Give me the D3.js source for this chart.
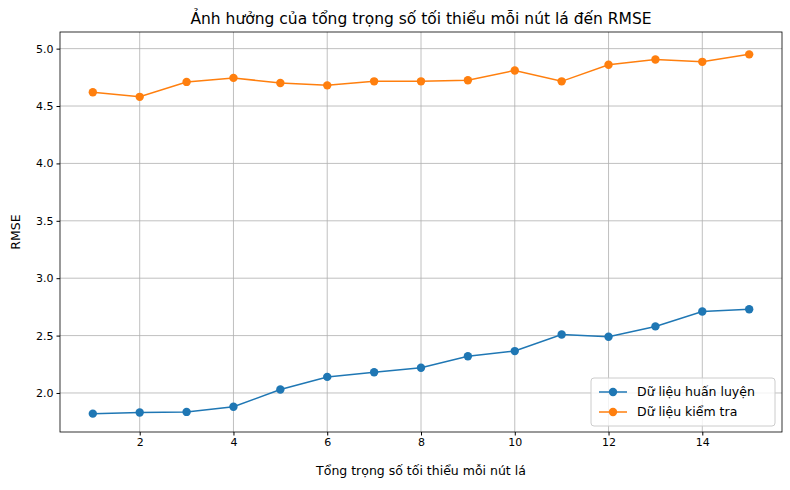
<!DOCTYPE html>
<html><head><meta charset="utf-8">
<script src="https://cdn.jsdelivr.net/npm/d3@7"></script>
<style>body{margin:0;background:#fff}text{font-family:"DejaVu Sans",sans-serif}</style>
</head><body><svg width="790" height="490"></svg>
<script>
const weights = [1,2,3,4,5,6,7,8,9,10,11,12,13,14,15];
const trainRmse = [1.82,1.83,1.835,1.88,2.03,2.14,2.18,2.22,2.32,2.365,2.51,2.49,2.58,2.71,2.73];
const testRmse = [4.62,4.58,4.71,4.745,4.70,4.68,4.715,4.715,4.725,4.81,4.715,4.86,4.905,4.885,4.95];
const yTicks = [2.0,2.5,3.0,3.5,4.0,4.5,5.0];
const xTicks = [2,4,6,8,10,12,14];

const svg = d3.select('svg');
const L = 60, R = 782, T = 32, B = 432;
const x = d3.scaleLinear().domain([0.3,15.7]).range([L,R]);
const y = d3.scaleLinear().domain([1.66,5.11]).range([B,T+4]);

const g = svg.append('g');
xTicks.forEach(t => g.append('line').attr('x1',x(t)).attr('x2',x(t)).attr('y1',T).attr('y2',B).attr('stroke','#b0b0b0').attr('stroke-width',0.8));
yTicks.forEach(t => g.append('line').attr('x1',L).attr('x2',R).attr('y1',y(t)).attr('y2',y(t)).attr('stroke','#b0b0b0').attr('stroke-width',0.8));

svg.append('g').attr('transform',`translate(0,${B})`)
  .call(d3.axisBottom(x).tickValues(xTicks).tickFormat(d3.format('d')).tickSize(3.5).tickPadding(3))
  .call(a => a.select('.domain').remove());
svg.append('g').attr('transform',`translate(${L},0)`)
  .call(d3.axisLeft(y).tickValues(yTicks).tickFormat(d3.format('.1f')).tickSize(3.5).tickPadding(3))
  .call(a => a.select('.domain').remove());
svg.selectAll('.tick text').attr('font-size',11).attr('fill','#000');
svg.append('rect').attr('x',L).attr('y',T).attr('width',R-L).attr('height',B-T).attr('fill','none').attr('stroke','#000').attr('stroke-width',0.8);

const line = d3.line().x((d,i)=>x(weights[i])).y(d=>y(d));
[[trainRmse,'#1f77b4'],[testRmse,'#ff7f0e']].forEach(([s,c]) => {
  svg.append('path').attr('d',line(s)).attr('fill','none').attr('stroke',c).attr('stroke-width',1.5);
  svg.selectAll(null).data(s).enter().append('circle')
    .attr('cx',(d,i)=>x(weights[i])).attr('cy',d=>y(d)).attr('r',4.2).attr('fill',c);
});

svg.append('text').attr('x',(L+R)/2).attr('y',T-8).attr('text-anchor','middle').attr('font-size',15.5)
  .text('Ảnh hưởng của tổng trọng số tối thiểu mỗi nút lá đến RMSE');
svg.append('text').attr('x',(L+R)/2).attr('y',B+43).attr('text-anchor','middle').attr('font-size',12.5)
  .text('Tổng trọng số tối thiểu mỗi nút lá');
svg.append('text').attr('transform',`translate(20,${(T+B)/2}) rotate(-90)`).attr('text-anchor','middle').attr('font-size',12.5)
  .text('RMSE');

const lg = svg.append('g').attr('transform','translate(591,378)');
lg.append('rect').attr('width',184).attr('height',48).attr('rx',3).attr('fill','#fff').attr('fill-opacity',0.8).attr('stroke','#ccc');
[['Dữ liệu huấn luyện','#1f77b4'],['Dữ liệu kiểm tra','#ff7f0e']].forEach(([t,c],i) => {
  const yy = 14 + i*20;
  lg.append('line').attr('x1',8).attr('x2',36).attr('y1',yy).attr('y2',yy).attr('stroke',c).attr('stroke-width',1.5);
  lg.append('circle').attr('cx',22).attr('cy',yy).attr('r',4.2).attr('fill',c);
  lg.append('text').attr('x',46).attr('y',yy+4).attr('font-size',12.5).text(t);
});
</script></body></html>
